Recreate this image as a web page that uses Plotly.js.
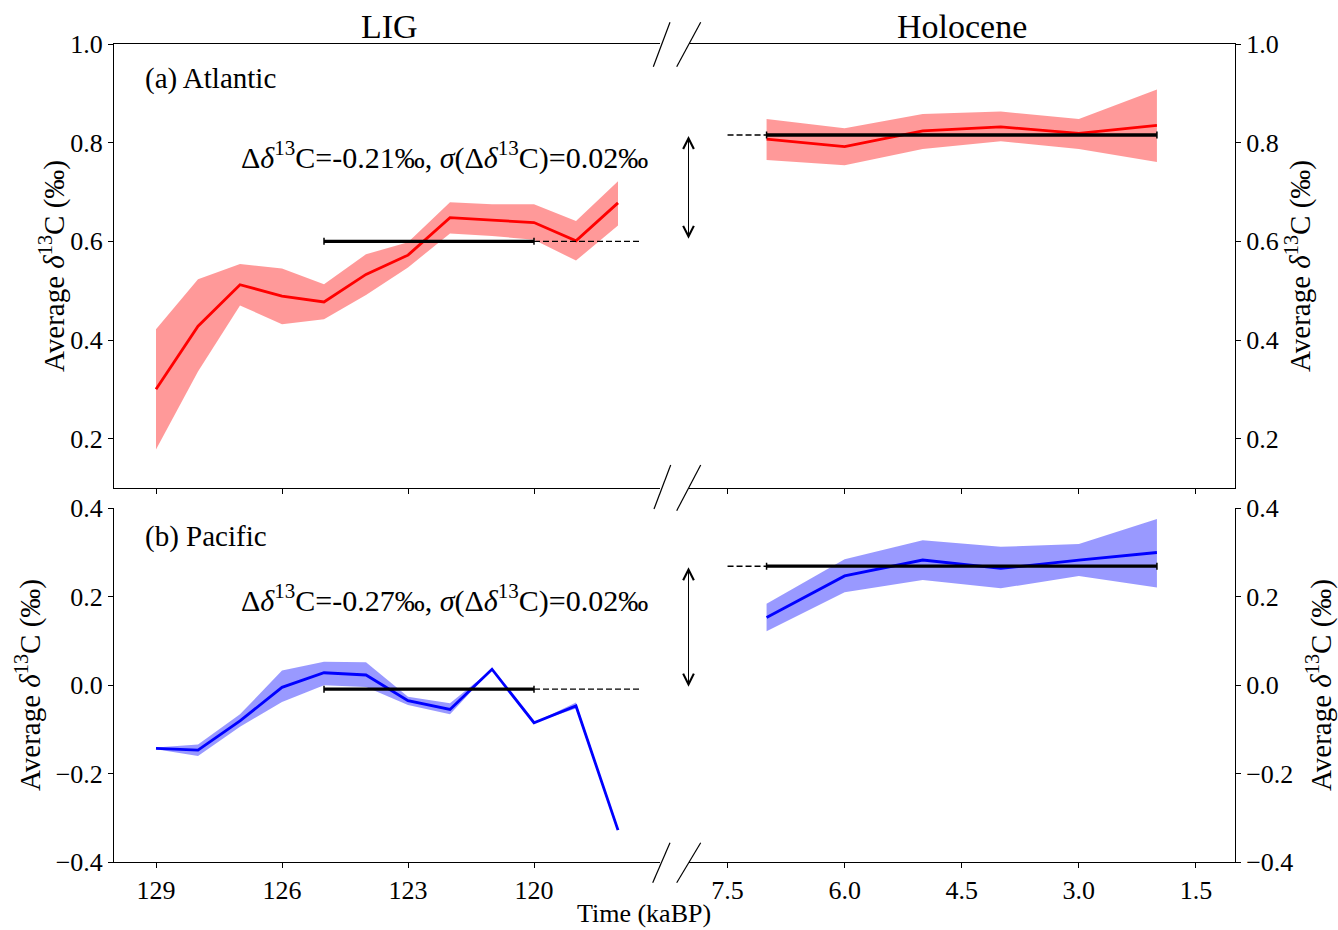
<!DOCTYPE html>
<html>
<head>
<meta charset="utf-8">
<script src="https://cdn.plot.ly/plotly-3.0.1.min.js"></script>
<style>html,body{margin:0;padding:0;background:#fff;}#chart{width:1338px;height:930px;}</style>
</head>
<body>
<div id="chart"></div>
<script>
// ---------- data ----------
const ligTime = [129, 128, 127, 126, 125, 124, 123, 122, 121, 120, 119, 118];
const holTime = [7, 6, 5, 4, 3, 2];

const atlLigMean  = [0.300, 0.428, 0.512, 0.489, 0.477, 0.533, 0.572, 0.648, 0.643, 0.638, 0.601, 0.678];
const atlLigUpper = [0.422, 0.523, 0.554, 0.545, 0.513, 0.574, 0.598, 0.679, 0.675, 0.675, 0.641, 0.722];
const atlLigLower = [0.178, 0.336, 0.470, 0.432, 0.442, 0.491, 0.547, 0.616, 0.611, 0.603, 0.561, 0.632];
const atlHolMean  = [0.807, 0.792, 0.824, 0.832, 0.819, 0.835];
const atlHolUpper = [0.848, 0.829, 0.858, 0.863, 0.848, 0.908];
const atlHolLower = [0.765, 0.754, 0.787, 0.803, 0.787, 0.761];

const pacLigMean  = [-0.143, -0.147, -0.081, -0.005, 0.028, 0.023, -0.035, -0.055, 0.036, -0.085, -0.047, -0.328];
const pacLigUpper = [-0.141, -0.134, -0.066, 0.033, 0.053, 0.052, -0.026, -0.041, 0.036, -0.085, -0.039, -0.328];
const pacLigLower = [-0.145, -0.160, -0.094, -0.038, 0.000, -0.004, -0.045, -0.066, 0.036, -0.085, -0.053, -0.328];
const pacHolMean  = [0.153, 0.247, 0.283, 0.264, 0.283, 0.300];
const pacHolUpper = [0.184, 0.285, 0.328, 0.313, 0.319, 0.376];
const pacHolLower = [0.122, 0.210, 0.238, 0.219, 0.247, 0.221];

// period averages
const ligAvgTime  = [125, 120];
const ligDashTime = [120, 117.5];
const holAvgTime  = [7, 2];
const holDashTime = [7.5, 7];
const atlLigAvg = 0.600;
const atlHolAvg = 0.8155;
const pacLigAvg = -0.009;
const pacHolAvg = 0.269;

// ticks and labels
const ligTickVals = [129, 126, 123, 120];
const ligTickText = ['129', '126', '123', '120'];
const holTickVals = [7.5, 6.0, 4.5, 3.0, 1.5];
const holTickText = ['7.5', '6.0', '4.5', '3.0', '1.5'];
const atlTickVals = [0.2, 0.4, 0.6, 0.8, 1.0];
const atlTickText = ['0.2', '0.4', '0.6', '0.8', '1.0'];
const pacTickVals = [-0.4, -0.2, 0.0, 0.2, 0.4];
const pacTickText = ['\u22120.4', '\u22120.2', '0.0', '0.2', '0.4'];

const atlText = 'Δ<i>δ</i><sup>13</sup>C=-0.21‰, <i>σ</i>(Δ<i>δ</i><sup>13</sup>C)=0.02‰';
const pacText = 'Δ<i>δ</i><sup>13</sup>C=-0.27‰, <i>σ</i>(Δ<i>δ</i><sup>13</sup>C)=0.02‰';
const yTitle = 'Average <i>δ</i><sup>13</sup>C (‰)';

// ---------- layout geometry ----------
const W = 1338, H = 930;
const M = {l: 114, r: 103, t: 44, b: 68};
const PW = W - M.l - M.r, PH = H - M.t - M.b;
const px = x => (x - M.l) / PW;
const py = y => (H - M.b - y) / PH;

const xLeftDom = [0, px(660)];
const xRightDom = [px(688.5), 1];
const yTopDom = [py(488), 1];
const yBotDom = [0, py(508.3)];

const RED = 'rgb(255,0,0)', BLUE = 'rgb(0,0,255)';
const REDF = 'rgba(255,0,0,0.4)', BLUEF = 'rgba(0,0,255,0.4)';
const FONT = 'Liberation Serif';

function band(x, lo, hi, xa, ya, fill) {
  return [
    {x: x, y: lo, xaxis: xa, yaxis: ya, type: 'scatter', mode: 'lines', line: {width: 0, color: fill}, hoverinfo: 'skip'},
    {x: x, y: hi, xaxis: xa, yaxis: ya, type: 'scatter', mode: 'lines', line: {width: 0, color: fill}, fill: 'tonexty', fillcolor: fill, hoverinfo: 'skip'}
  ];
}
function line(x, y, xa, ya, color) {
  return {x: x, y: y, xaxis: xa, yaxis: ya, type: 'scatter', mode: 'lines', line: {width: 2.8, color: color}};
}
function avg(x, v, xa, ya) {
  return {x: x, y: [v, v], xaxis: xa, yaxis: ya, type: 'scatter', mode: 'lines+markers',
          line: {width: 3.3, color: 'black'}, marker: {symbol: 'line-ns', size: 5, line: {width: 1.5, color: 'black'}}};
}
function dash(x, v, xa, ya) {
  return {x: x, y: [v, v], xaxis: xa, yaxis: ya, type: 'scatter', mode: 'lines',
          line: {width: 1.4, color: 'black', dash: '6px,3px'}};
}

const traces = [].concat(
  band(ligTime, atlLigLower, atlLigUpper, 'x', 'y', REDF),
  [line(ligTime, atlLigMean, 'x', 'y', RED), dash(ligDashTime, atlLigAvg, 'x', 'y'), avg(ligAvgTime, atlLigAvg, 'x', 'y')],
  band(holTime, atlHolLower, atlHolUpper, 'x2', 'y2', REDF),
  [line(holTime, atlHolMean, 'x2', 'y2', RED), dash(holDashTime, atlHolAvg, 'x2', 'y2'), avg(holAvgTime, atlHolAvg, 'x2', 'y2')],
  band(ligTime, pacLigLower, pacLigUpper, 'x3', 'y3', BLUEF),
  [line(ligTime, pacLigMean, 'x3', 'y3', BLUE), dash(ligDashTime, pacLigAvg, 'x3', 'y3'), avg(ligAvgTime, pacLigAvg, 'x3', 'y3')],
  band(holTime, pacHolLower, pacHolUpper, 'x4', 'y4', BLUEF),
  [line(holTime, pacHolMean, 'x4', 'y4', BLUE), dash(holDashTime, pacHolAvg, 'x4', 'y4'), avg(holAvgTime, pacHolAvg, 'x4', 'y4')]
);

const axBase = {
  showline: true, linecolor: 'black', linewidth: 1, ticks: 'outside', ticklen: 5, tickwidth: 1,
  tickcolor: 'black', showgrid: false, zeroline: false,
  tickfont: {family: FONT, size: 26, color: 'black'}
};

function ann(text, x, y, opts) {
  return Object.assign({text: text, xref: 'paper', yref: 'paper', x: px(x), y: py(y), showarrow: false,
                        xanchor: 'center', yanchor: 'middle',
                        font: {family: FONT, size: 29, color: 'black'}}, opts || {});
}
function brk(x0, y0, x1, y1) {
  return {type: 'line', xref: 'paper', yref: 'paper', x0: px(x0), y0: py(y0), x1: px(x1), y1: py(y1),
          line: {color: 'black', width: 1.2}};
}
function arrow(xa, ya, top, bottom) {
  return {xref: xa, yref: ya, axref: xa, ayref: ya, x: 8.0, y: top, ax: 8.0, ay: bottom, text: '',
          showarrow: true, arrowside: 'end+start', arrowhead: 5, startarrowhead: 5,
          arrowsize: 2.1, startarrowsize: 2.1, arrowwidth: 1, arrowcolor: 'black', standoff: 1, startstandoff: 1};
}

const layout = {
  width: W, height: H, margin: M, showlegend: false,
  paper_bgcolor: 'white', plot_bgcolor: 'white',
  font: {family: FONT, size: 26, color: 'black'},
  xaxis: Object.assign({}, axBase, {domain: xLeftDom, range: [130, 117], anchor: 'y', mirror: true,
          tickvals: ligTickVals, ticktext: ligTickText, showticklabels: false}),
  yaxis: Object.assign({}, axBase, {domain: yTopDom, range: [0.1, 1.0], anchor: 'x',
          tickvals: atlTickVals, ticktext: atlTickText}),
  xaxis2: Object.assign({}, axBase, {domain: xRightDom, range: [8, 1], anchor: 'y2', mirror: true,
          tickvals: holTickVals, ticktext: holTickText, showticklabels: false}),
  yaxis2: Object.assign({}, axBase, {domain: yTopDom, range: [0.1, 1.0], anchor: 'x2', side: 'right',
          tickvals: atlTickVals, ticktext: atlTickText}),
  xaxis3: Object.assign({}, axBase, {domain: xLeftDom, range: [130, 117], anchor: 'y3',
          tickvals: ligTickVals, ticktext: ligTickText}),
  yaxis3: Object.assign({}, axBase, {domain: yBotDom, range: [-0.4, 0.4], anchor: 'x3',
          tickvals: pacTickVals, ticktext: pacTickText}),
  xaxis4: Object.assign({}, axBase, {domain: xRightDom, range: [8, 1], anchor: 'y4',
          tickvals: holTickVals, ticktext: holTickText}),
  yaxis4: Object.assign({}, axBase, {domain: yBotDom, range: [-0.4, 0.4], anchor: 'x4', side: 'right',
          tickvals: pacTickVals, ticktext: pacTickText}),
  shapes: [
    brk(653.3, 66.7, 670, 22.3), brk(676.7, 66.7, 700.7, 22.3),
    brk(654, 509, 670.7, 465), brk(676.7, 510.7, 700.7, 465),
    brk(652.7, 882.7, 670, 842.7), brk(676.7, 882.7, 700.7, 842.7)
  ],
  annotations: [
    ann('LIG', 389, 26, {font: {family: FONT, size: 34, color: 'black'}}),
    ann('Holocene', 962, 26, {font: {family: FONT, size: 34, color: 'black'}}),
    ann('(a) Atlantic', 143, 79, {xanchor: 'left'}),
    ann('(b) Pacific', 143, 536, {xanchor: 'left'}),
    ann(atlText, 650, 156, {xanchor: 'right', font: {family: FONT, size: 30, color: 'black'}}),
    ann(pacText, 650, 598, {xanchor: 'right', font: {family: FONT, size: 30, color: 'black'}}),
    ann(yTitle, 52, 266, {textangle: -90}),
    ann(yTitle, 28, 685, {textangle: -90}),
    ann(yTitle, 1298, 266, {textangle: -90}),
    ann(yTitle, 1319, 685, {textangle: -90}),
    ann('Time (kaBP)', 644, 913, {font: {family: FONT, size: 26, color: 'black'}}),
    arrow('x2', 'y2', atlHolAvg, atlLigAvg),
    arrow('x4', 'y4', pacHolAvg, pacLigAvg)
  ]
};

Plotly.newPlot('chart', traces, layout, {displayModeBar: false, staticPlot: true});
</script>
</body>
</html>
